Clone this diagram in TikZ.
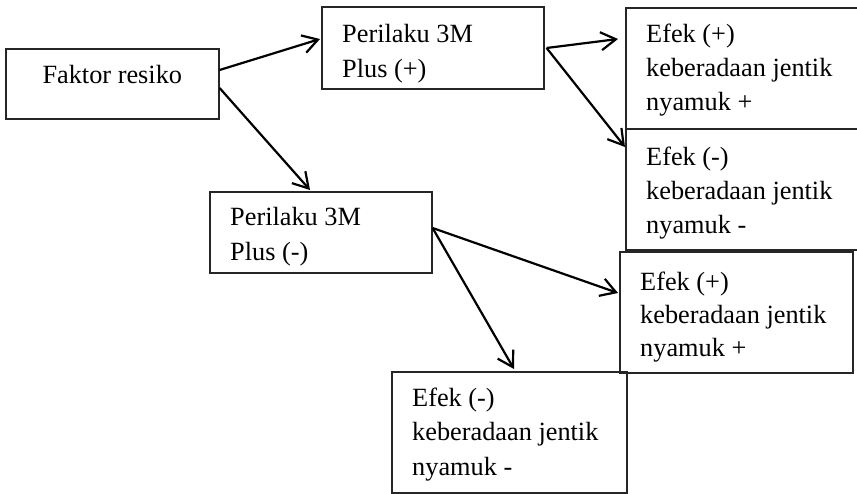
\documentclass[tikz,border=0pt]{standalone}
\usepackage{fontspec}
\setmainfont{Liberation Serif}
\usetikzlibrary{arrows.meta,calc}
\begin{document}
\begin{tikzpicture}[x=1pt,y=-1pt,
  box/.style={draw=black!85, line width=1.6pt, inner sep=0pt, anchor=north west},
  lbl/.style={anchor=base west, inner sep=0pt, font=\fontsize{26.3}{34}\selectfont},
  conn/.style={line width=2.2pt, -{Straight Barb[length=15pt,width=18pt,line width=2.2pt]}}]
\useasboundingbox (0,0) rectangle (857,493);
% boxes
\node[box, minimum width=213pt, minimum height=70pt] (b1) at (5,48) {};
\node[box, minimum width=222pt, minimum height=82pt] (b2) at (321,6) {};
\node[box, minimum width=240pt, minimum height=121pt] (b3) at (625,7) {};
\node[box, minimum width=240pt, minimum height=121pt] (b4) at (625,128) {};
\node[box, minimum width=222pt, minimum height=81pt] (b5) at (209,191) {};
\node[box, minimum width=233pt, minimum height=121pt] (b6) at (619,251) {};
\node[box, minimum width=235pt, minimum height=121pt] (b7) at (391,371) {};
% texts
\node[lbl, anchor=base] (t1) at ($(b1.north)+(0,35)$) {Faktor resiko};
\node[lbl] (t2a) at ($(b2.north west)+(21,36)$) {Perilaku 3M};
\node[lbl] (t2b) at ($(b2.north west)+(21,71)$) {Plus (+)};
\node[lbl] (t3a) at ($(b3.north west)+(21,35)$) {Efek (+)};
\node[lbl] (t3b) at ($(b3.north west)+(21,69)$) {keberadaan jentik};
\node[lbl] (t3c) at ($(b3.north west)+(21,103)$) {nyamuk +};
\node[lbl] (t4a) at ($(b4.north west)+(21,37)$) {Efek (-)};
\node[lbl] (t4b) at ($(b4.north west)+(21,71)$) {keberadaan jentik};
\node[lbl] (t4c) at ($(b4.north west)+(21,105)$) {nyamuk -};
\node[lbl] (t5a) at ($(b5.north west)+(21,34)$) {Perilaku 3M};
\node[lbl] (t5b) at ($(b5.north west)+(21,69)$) {Plus (-)};
\node[lbl] (t6a) at ($(b6.north west)+(21,39)$) {Efek (+)};
\node[lbl] (t6b) at ($(b6.north west)+(21,72)$) {keberadaan jentik};
\node[lbl] (t6c) at ($(b6.north west)+(21,105)$) {nyamuk +};
\node[lbl] (t7a) at ($(b7.north west)+(21,35)$) {Efek (-)};
\node[lbl] (t7b) at ($(b7.north west)+(21,69)$) {keberadaan jentik};
\node[lbl] (t7c) at ($(b7.north west)+(21,104)$) {nyamuk -};
% connectors
\draw[conn] ($(b1.north east)+(0,22)$) -- ($(b2.north west)+(-1,33)$);
\draw[conn] ($(b1.north east)+(0,40)$) -- ($(b5.north west)+(101,-1)$);
\draw[conn] ($(b2.north east)+(2,42)$) -- ($(b3.north west)+(-7,32)$);
\draw[conn] ($(b2.north east)+(2,42)$) -- ($(b4.north west)+(0,19)$);
\draw[conn] ($(b5.north east)+(0,37)$) -- ($(b6.north west)+(-1,42)$);
\draw[conn] ($(b5.north east)+(0,37)$) -- ($(b7.north west)+(123,-2)$);
\end{tikzpicture}
\end{document}
